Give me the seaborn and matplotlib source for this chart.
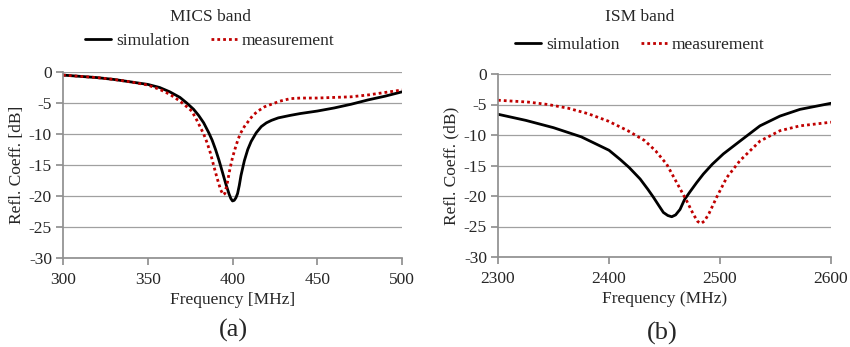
import numpy as np
import pandas as pd
import seaborn as sns
import matplotlib.pyplot as plt

sns.set_theme(style="white")
plt.rcParams['font.family'] = ['Liberation Serif', 'DejaVu Serif']
plt.rcParams['axes.unicode_minus'] = False

# MICS band (a)
mics_sim_f = [300, 310, 320, 330, 340, 350, 357, 363, 369, 373, 377, 380, 383, 386, 388, 390,
              392, 394, 396, 398, 399, 400, 401, 402, 403, 404, 405, 407, 409, 411, 414, 417,
              420, 423, 427, 434, 440, 450, 460, 470, 480, 490, 500]
mics_sim_db = [-0.5, -0.7, -0.9, -1.2, -1.6, -2.0, -2.5, -3.2, -4.1, -5.0, -6.0, -7.0, -8.2,
               -9.8, -11.0, -12.5, -14.2, -16.1, -18.0, -19.7, -20.4, -20.8, -20.7, -20.3,
               -19.6, -18.3, -16.7, -14.3, -12.5, -11.2, -9.8, -8.8, -8.2, -7.8, -7.4, -7.0,
               -6.7, -6.3, -5.8, -5.2, -4.5, -3.9, -3.2]
mics_meas_f = [300, 310, 320, 330, 340, 350, 357, 363, 369, 373, 376, 379, 381, 383, 385, 387,
               389, 391, 393, 394.5, 395.5, 397, 398.5, 400, 401.5, 403, 404.5, 407, 409.5,
               412, 415, 419, 423, 428, 434, 440, 450, 460, 470, 480, 490, 500]
mics_meas_db = [-0.5, -0.7, -0.9, -1.2, -1.6, -2.1, -2.8, -3.6, -4.7, -5.6, -6.3, -7.8, -8.9,
                -10.0, -11.4, -13.1, -15.2, -17.2, -19.0, -19.8, -19.6, -17.8, -15.6, -13.8,
                -12.4, -11.1, -10.0, -8.8, -7.9, -7.0, -6.3, -5.6, -5.2, -4.7, -4.3, -4.2,
                -4.2, -4.1, -4.0, -3.7, -3.3, -2.9]

# ISM band (b)
ism_sim_f = [2300, 2325, 2350, 2375, 2400, 2410, 2418, 2428, 2435, 2440, 2445, 2449, 2453,
             2456.5, 2460, 2464, 2468, 2473, 2479, 2485, 2493, 2503, 2518, 2536, 2554, 2572,
             2600]
ism_sim_db = [-6.6, -7.6, -8.8, -10.3, -12.5, -14.0, -15.3, -17.2, -18.9, -20.2, -21.6, -22.7,
              -23.2, -23.4, -23.1, -22.2, -20.6, -19.3, -17.8, -16.4, -14.8, -13.1, -11.0,
              -8.5, -6.9, -5.8, -4.8]
ism_meas_f = [2300, 2327, 2345, 2363, 2381, 2399, 2417, 2432, 2442, 2452, 2461, 2470, 2476,
              2480, 2483, 2486, 2490, 2497, 2506, 2518, 2536, 2554, 2572, 2600]
ism_meas_db = [-4.3, -4.6, -5.0, -5.6, -6.5, -7.7, -9.3, -10.9, -12.6, -14.8, -17.8, -20.8,
               -23.0, -24.2, -24.5, -24.1, -22.9, -20.2, -17.0, -14.2, -11.0, -9.3, -8.5, -7.9]

df_a = pd.concat([
    pd.DataFrame({"f": mics_sim_f, "db": mics_sim_db, "kind": "simulation"}),
    pd.DataFrame({"f": mics_meas_f, "db": mics_meas_db, "kind": "measurement"}),
])
df_b = pd.concat([
    pd.DataFrame({"f": ism_sim_f, "db": ism_sim_db, "kind": "simulation"}),
    pd.DataFrame({"f": ism_meas_f, "db": ism_meas_db, "kind": "measurement"}),
])

fig = plt.figure(figsize=(8.5, 3.47), dpi=100)
ax1 = fig.add_axes([63 / 850, 89 / 347, 339 / 850, 186 / 347])
ax2 = fig.add_axes([498 / 850, 90 / 347, 333 / 850, 183 / 347])

palette = {"simulation": "black", "measurement": "#c00000"}
fs = 12.5

panels = [
    (ax1, df_a, "MICS band", "Frequency [MHz]", "Refl. Coeff. [dB]", (300, 500),
     [300, 350, 400, 450, 500], "(a)", 210, 41, 233, 330),
    (ax2, df_b, "ISM band", "Frequency (MHz)", "Refl. Coeff. (dB)", (2300, 2600),
     [2300, 2400, 2500, 2600], "(b)", 640, 45, 662, 333),
]

for ax, df, title, xlab, ylab, xlim, xt, cap, cx, ly, capx, capy in panels:
    sns.lineplot(data=df, x="f", y="db", hue="kind", style="kind", palette=palette,
                 dashes={"simulation": "", "measurement": (1, 1.1)}, linewidth=2,
                 sort=False, ax=ax)
    ax.set_xlim(*xlim)
    ax.set_ylim(-30, 0)
    ax.set_xticks(xt)
    ax.set_yticks(range(-30, 1, 5))
    ax.grid(axis="y", color="#a0a0a0", linewidth=0.9)
    ax.set_axisbelow(True)
    for s in ["top", "right"]:
        ax.spines[s].set_visible(False)
    for s in ["left", "bottom"]:
        ax.spines[s].set_color("#909090")
    ax.tick_params(axis="both", which="major", length=5, color="#909090",
                   labelsize=fs, direction="out", bottom=True, left=True, pad=3)
    ax.tick_params(axis="x", pad=5)
    ax.set_xlabel(xlab, fontsize=fs, labelpad=3)
    ax.set_ylabel(ylab, fontsize=fs, labelpad=3)
    fig.text(cx / 850, 1 - 17 / 347, title, ha="center", va="center", fontsize=fs)
    ax.legend(loc="center", bbox_to_anchor=(cx / 850, 1 - ly / 347),
              bbox_transform=fig.transFigure, ncol=2, frameon=False, fontsize=fs,
              handlelength=1.5, columnspacing=1.2, handletextpad=0.3, borderaxespad=0)
    fig.text(capx / 850, 1 - capy / 347, cap, ha="center", va="center", fontsize=19)

fig.savefig("out.png", dpi=100)
